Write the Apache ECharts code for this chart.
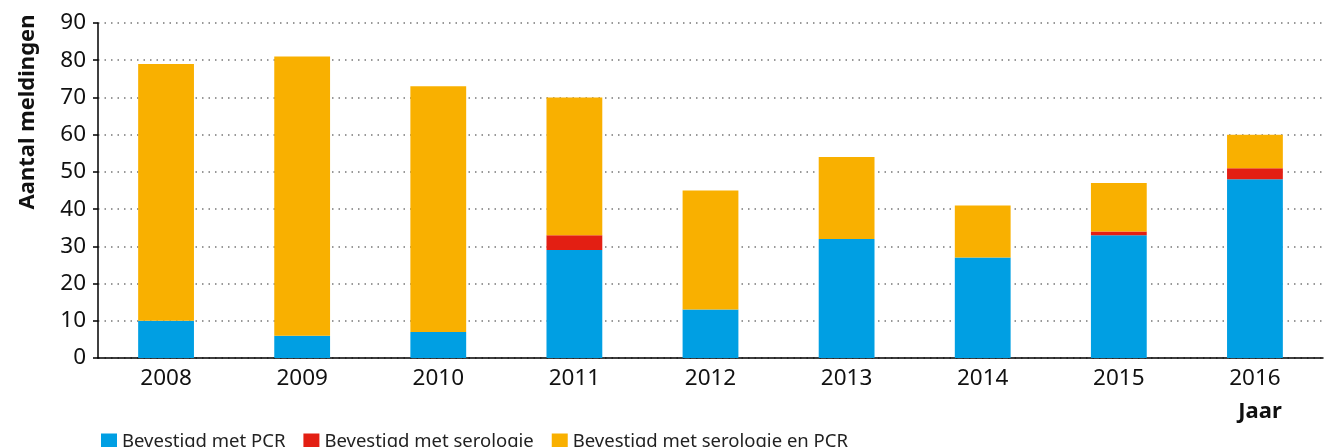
<!DOCTYPE html>
<html>
<head>
<meta charset="utf-8">
<script src="https://cdn.jsdelivr.net/npm/echarts@6/dist/echarts.min.js"></script>
<style>
  html, body { margin: 0; padding: 0; background: #fff; }
  #chart { width: 1327px; height: 447px; }
</style>
</head>
<body>
<div id="chart"></div>
<script>
const years = ['2008', '2009', '2010', '2011', '2012', '2013', '2014', '2015', '2016']
const pcr = [10, 6, 7, 29, 13, 32, 27, 33, 48]
const serologie = [0, 0, 0, 4, 0, 0, 0, 1, 3]
const serologieEnPcr = [69, 75, 66, 37, 32, 22, 14, 13, 9]

const font = 'Noto Sans'
const chart = echarts.init(document.getElementById('chart'))

function barSeries(name, data, color) {
  return {
    name,
    type: 'bar',
    stack: 'totaal',
    data,
    barWidth: '41%',
    itemStyle: { color },
    emphasis: { disabled: true }
  }
}

chart.setOption({
  animation: false,
  textStyle: { fontFamily: font },
  grid: { left: 98, right: 4, top: 23, bottom: 89 },
  legend: {
    left: 96,
    top: 427,
    itemWidth: 16,
    itemHeight: 16,
    itemGap: 18,
    icon: 'rect',
    textStyle: { fontFamily: font, fontSize: 18.5, color: '#222' },
    data: ['Bevestigd met PCR', 'Bevestigd met serologie', 'Bevestigd met serologie en PCR']
  },
  xAxis: {
    type: 'category',
    data: years,
    axisLine: { lineStyle: { color: '#000', width: 1.5 } },
    axisTick: { length: 6, lineStyle: { color: '#000', width: 1.5 } },
    axisLabel: { color: '#111', fontSize: 22.5, margin: 9 }
  },
  yAxis: {
    type: 'value',
    min: 0,
    max: 90,
    interval: 10,
    axisLine: { show: true, lineStyle: { color: '#000', width: 1.5 } },
    axisTick: { show: true, length: 5, lineStyle: { color: '#000', width: 1.5 } },
    axisLabel: { color: '#111', fontSize: 22.5, margin: 12 },
    splitLine: { lineStyle: { color: '#777', type: [1.5, 5], width: 1.5 } }
  },
  graphic: [
    {
      type: 'text',
      x: 28,
      y: 112,
      rotation: Math.PI / 2,
      style: {
        text: 'Aantal meldingen',
        font: 'bold 22px "Noto Sans"',
        fill: '#111',
        align: 'center',
        verticalAlign: 'middle'
      }
    },
    {
      type: 'text',
      x: 1260,
      y: 412,
      style: {
        text: 'Jaar',
        font: 'bold 22px "Noto Sans"',
        fill: '#111',
        align: 'center',
        verticalAlign: 'middle'
      }
    }
  ],
  series: [
    barSeries('Bevestigd met PCR', pcr, '#009fe3'),
    barSeries('Bevestigd met serologie', serologie, '#e31f13'),
    barSeries('Bevestigd met serologie en PCR', serologieEnPcr, '#f9b000')
  ]
})
</script>
</body>
</html>
